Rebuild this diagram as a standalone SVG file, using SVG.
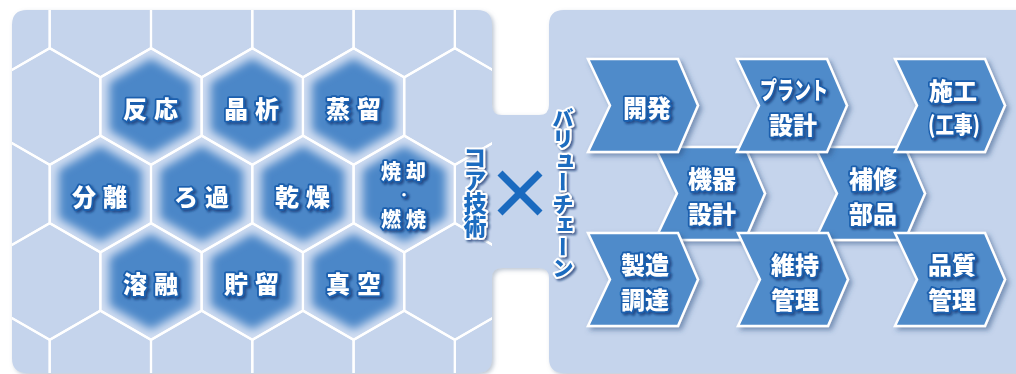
<svg xmlns="http://www.w3.org/2000/svg" xmlns:xlink="http://www.w3.org/1999/xlink" width="1016" height="374" viewBox="0 0 1016 374">
<style>
.hx{font-family:"Noto Sans CJK JP","Noto Sans",sans-serif;font-weight:900;fill:#fff;stroke:#1a5fae;stroke-width:3.6;stroke-linejoin:round;paint-order:stroke;text-anchor:middle;dominant-baseline:central;filter:url(#tsh)}
.vt{font-family:"Noto Sans CJK JP","Noto Sans",sans-serif;font-weight:900;fill:#1e6cc0;stroke:#fff;stroke-width:4;stroke-linejoin:round;paint-order:stroke;writing-mode:vertical-rl;text-anchor:middle;filter:url(#tsh)}
.grid{fill:none;stroke:#fff;stroke-width:2.2}
.chev{fill:#508bca;stroke:#fff;stroke-width:2.5;stroke-linejoin:miter;filter:url(#csh)}
</style>
<defs>
<polygon id="hex" points="0,-58.5 50.65,-29.25 50.65,29.25 0,58.5 -50.65,29.25 -50.65,-29.25"/>
<clipPath id="hexClip"><use xlink:href="#hex"/></clipPath>
<clipPath id="leftClip"><rect x="12" y="10" width="480" height="363" rx="15"/></clipPath>
<filter id="blur6" x="-30%" y="-30%" width="160%" height="160%"><feGaussianBlur stdDeviation="5"/></filter>
<filter id="tsh" x="-20%" y="-20%" width="150%" height="150%"><feDropShadow dx="2" dy="2" stdDeviation="1" flood-color="#0b3470" flood-opacity="0.7"/></filter>
<filter id="csh" x="-10%" y="-10%" width="130%" height="130%"><feDropShadow dx="3" dy="3" stdDeviation="2.5" flood-color="#2a4f80" flood-opacity="0.5"/></filter>
<filter id="psh" x="-5%" y="-5%" width="110%" height="110%"><feDropShadow dx="2" dy="2" stdDeviation="2" flood-color="#7d8ea8" flood-opacity="0.5"/></filter>
<g id="hexHi">
<use xlink:href="#hex" fill="#4b87c8"/>
<g clip-path="url(#hexClip)"><use xlink:href="#hex" fill="none" stroke="#d2def2" stroke-width="18" filter="url(#blur6)"/></g>
</g>
<polygon id="chev" points="0,0 90,0 110,46.5 90,93 0,93 22,46.5"/>
</defs>
<rect width="1016" height="374" fill="#fff"/>
<g id="panel">
<path filter="url(#psh)" fill="#c5d4ec" d="M27,10 H477 Q492,10 492,25 V105 Q492,115 502,115 H539 Q549,115 549,105 V25 Q549,10 564,10 H1030 V373 H564 Q549,373 549,358 V278 Q549,268 539,268 H502 Q492,268 492,278 V358 Q492,373 477,373 H27 Q12,373 12,358 V25 Q12,10 27,10 Z"/>
</g>
<g id="hexgrid" clip-path="url(#leftClip)">
<g transform="translate(151,106.5)"><use xlink:href="#hexHi"/></g>
<g transform="translate(252.3,106.5)"><use xlink:href="#hexHi"/></g>
<g transform="translate(353.6,106.5)"><use xlink:href="#hexHi"/></g>
<g transform="translate(100.35,194)"><use xlink:href="#hexHi"/></g>
<g transform="translate(201.65,194)"><use xlink:href="#hexHi"/></g>
<g transform="translate(302.95,194)"><use xlink:href="#hexHi"/></g>
<g transform="translate(404.25,194)"><use xlink:href="#hexHi"/></g>
<g transform="translate(151,281.5)"><use xlink:href="#hexHi"/></g>
<g transform="translate(252.3,281.5)"><use xlink:href="#hexHi"/></g>
<g transform="translate(353.6,281.5)"><use xlink:href="#hexHi"/></g>
<g class="grid">
<use xlink:href="#hex" x="-0.95" y="19"/><use xlink:href="#hex" x="100.35" y="19"/><use xlink:href="#hex" x="201.65" y="19"/><use xlink:href="#hex" x="302.95" y="19"/><use xlink:href="#hex" x="404.25" y="19"/><use xlink:href="#hex" x="505.55" y="19"/>
<use xlink:href="#hex" x="49.7" y="106.5"/><use xlink:href="#hex" x="151" y="106.5"/><use xlink:href="#hex" x="252.3" y="106.5"/><use xlink:href="#hex" x="353.6" y="106.5"/><use xlink:href="#hex" x="454.9" y="106.5"/>
<use xlink:href="#hex" x="-0.95" y="194"/><use xlink:href="#hex" x="100.35" y="194"/><use xlink:href="#hex" x="201.65" y="194"/><use xlink:href="#hex" x="302.95" y="194"/><use xlink:href="#hex" x="404.25" y="194"/><use xlink:href="#hex" x="505.55" y="194"/>
<use xlink:href="#hex" x="49.7" y="281.5"/><use xlink:href="#hex" x="151" y="281.5"/><use xlink:href="#hex" x="252.3" y="281.5"/><use xlink:href="#hex" x="353.6" y="281.5"/><use xlink:href="#hex" x="454.9" y="281.5"/>
<use xlink:href="#hex" x="-0.95" y="369"/><use xlink:href="#hex" x="100.35" y="369"/><use xlink:href="#hex" x="201.65" y="369"/><use xlink:href="#hex" x="302.95" y="369"/><use xlink:href="#hex" x="404.25" y="369"/><use xlink:href="#hex" x="505.55" y="369"/>
</g>
</g>
<g id="hex-labels" font-size="24" letter-spacing="7">
<g id="n-hannou"><text class="hx" x="154" y="107">反応</text></g>
<g id="n-shouseki"><text class="hx" x="255" y="107">晶析</text></g>
<g id="n-jouryuu"><text class="hx" x="357" y="107">蒸留</text></g>
<g id="n-bunri"><text class="hx" x="103" y="195">分離</text></g>
<g id="n-roka"><text class="hx" x="205" y="195">ろ過</text></g>
<g id="n-kansou"><text class="hx" x="306" y="195">乾燥</text></g>
<g id="n-shoukyaku"><text class="hx" x="406" y="170" font-size="20" letter-spacing="5">焼却</text><text class="hx" x="404" y="194" font-size="12" stroke-width="3" letter-spacing="0">・</text><text class="hx" x="406" y="218" font-size="20" letter-spacing="5">燃焼</text></g>
<g id="n-youyuu"><text class="hx" x="154" y="282">溶融</text></g>
<g id="n-choryuu"><text class="hx" x="255" y="282">貯留</text></g>
<g id="n-shinkuu"><text class="hx" x="357" y="282">真空</text></g>
</g>
<g id="middle">
<text class="vt" x="475" y="192" font-size="23">コア技術</text>
<g id="times" stroke="#1a6abf" stroke-width="7" stroke-linecap="butt"><line x1="500" y1="173" x2="540" y2="213"/><line x1="540" y1="173" x2="500" y2="213"/></g>
<text class="vt" x="563" y="193" font-size="21.5">バリューチェーン</text>
</g>
<g id="chevrons">
<g id="c-kiki"><use xlink:href="#chev" class="chev" x="655" y="147"/><text class="hx" font-size="24" x="712" y="177">機器</text><text class="hx" font-size="24" x="712" y="212">設計</text></g>
<g id="c-hoshu"><use xlink:href="#chev" class="chev" x="815" y="147"/><text class="hx" font-size="24" x="873" y="177">補修</text><text class="hx" font-size="24" x="873" y="212">部品</text></g>
<g id="c-kaihatsu"><use xlink:href="#chev" class="chev" x="588" y="59"/><text class="hx" font-size="24" x="647" y="106">開発</text></g>
<g id="c-plant"><use xlink:href="#chev" class="chev" x="737" y="59"/><text class="hx" font-size="24" x="794" y="88" textLength="68" lengthAdjust="spacingAndGlyphs">プラント</text><text class="hx" font-size="24" x="793" y="123">設計</text></g>
<g id="c-sekou"><use xlink:href="#chev" class="chev" x="895" y="59"/><text class="hx" font-size="24" x="953" y="89">施工</text><text class="hx" font-size="23" x="954" y="123" textLength="52" lengthAdjust="spacingAndGlyphs">(工事)</text></g>
<g id="c-seizou"><use xlink:href="#chev" class="chev" x="588" y="233"/><text class="hx" font-size="24" x="645" y="263">製造</text><text class="hx" font-size="24" x="645" y="298">調達</text></g>
<g id="c-iji"><use xlink:href="#chev" class="chev" x="738" y="233"/><text class="hx" font-size="24" x="795" y="263">維持</text><text class="hx" font-size="24" x="795" y="298">管理</text></g>
<g id="c-hinshitsu"><use xlink:href="#chev" class="chev" x="895" y="233"/><text class="hx" font-size="24" x="952" y="263">品質</text><text class="hx" font-size="24" x="952" y="298">管理</text></g>
</g>
</svg>
